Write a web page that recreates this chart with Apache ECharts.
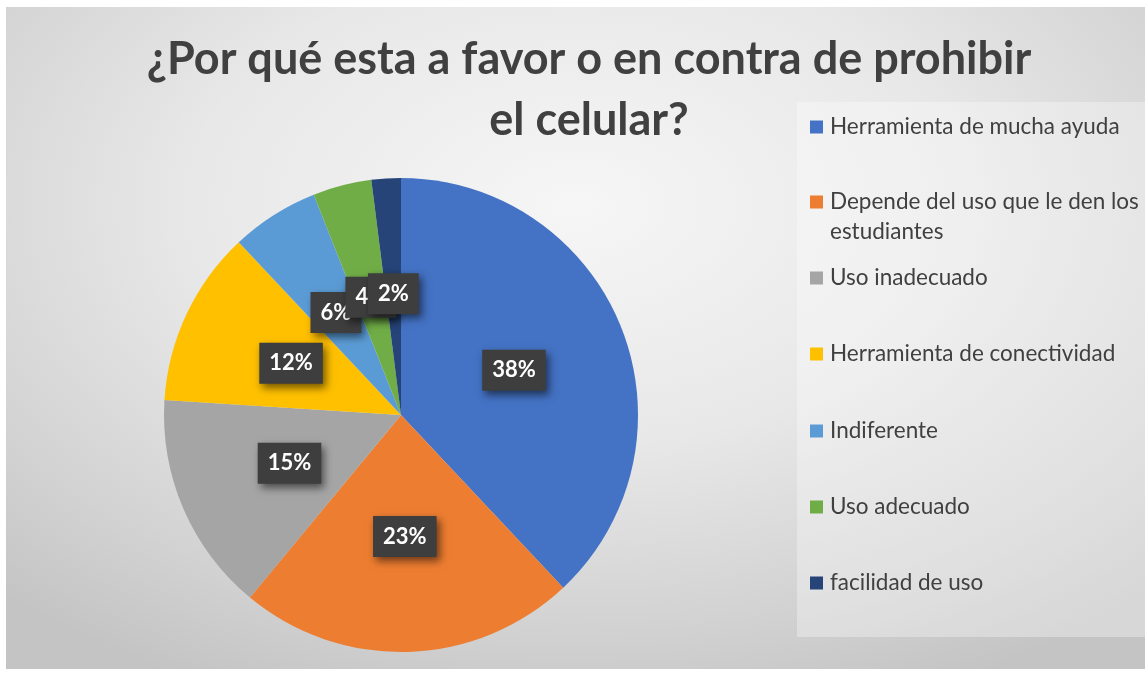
<!DOCTYPE html>
<html>
<head>
<meta charset="utf-8">
<script src="https://cdn.jsdelivr.net/npm/echarts@6/dist/echarts.min.js"></script>
<style>
  html, body { margin: 0; padding: 0; background: #ffffff; width: 1145px; height: 674px; overflow: hidden; }
  #chart {
    position: absolute; left: 6px; top: 7px; width: 1139px; height: 662px;
    background: radial-gradient(ellipse 75% 80% at 50% 30%, #f6f6f6 0%, #e8e8e8 45%, #d2d2d2 80%, #c4c4c4 100%);
  }
</style>
</head>
<body>
<div id="chart"></div>
<script>
const titleText = '¿Por qué esta a favor o en contra de prohibir\nel celular?';
const categories = [
  'Herramienta de mucha ayuda',
  'Depende del uso que le den los estudiantes',
  'Uso inadecuado',
  'Herramienta de conectividad',
  'Indiferente',
  'Uso adecuado',
  'facilidad de uso'
];
const values = [38, 23, 15, 12, 6, 4, 2];
const colors = ['#4472C4', '#ED7D31', '#A5A5A5', '#FFC000', '#5B9BD5', '#70AD47', '#264478'];

const FONT = 'Lato, "Open Sans", sans-serif';
const legendCenters = [120, 195, 271, 347, 424, 500, 576];

const chart = echarts.init(document.getElementById('chart'), null, { renderer: 'canvas' });

const legends = categories.map((name, i) => {
  const wrapped = name.length > 30;
  return {
    orient: 'vertical',
    left: 804,
    top: legendCenters[i] - 15,
    padding: 0,
    itemWidth: 13,
    itemHeight: wrapped ? 43 : 13,
    icon: wrapped ? 'path://M0,0L13,0L13,13L0,13Z M0,43L13,43' : 'rect',
    data: [name],
    selectedMode: false,
    textStyle: {
      fontFamily: FONT,
      fontSize: 22.5,
      color: '#404040',
      lineHeight: 30,
      width: wrapped ? 322 : undefined,
      overflow: wrapped ? 'break' : 'none',
      padding: [0, 0, 0, 2]
    }
  };
});

chart.setOption({
  animation: false,
  color: colors,
  title: {
    text: titleText,
    left: 578,
    top: 17,
    textAlign: 'center',
    textStyle: {
      fontFamily: FONT,
      fontWeight: 'bold',
      fontSize: 45,
      lineHeight: 61,
      color: '#404040'
    }
  },
  graphic: [{
    type: 'rect',
    left: 791, top: 95,
    shape: { width: 348, height: 535 },
    style: { fill: 'rgba(255,255,255,0.32)' },
    z: -1, silent: true
  }],
  legend: legends,
  series: [{
    type: 'pie',
    center: [395, 408],
    radius: 237,
    startAngle: 90,
    clockwise: true,
    avoidLabelOverlap: false,
    labelLayout: { hideOverlap: false },
    labelLine: { show: false },
    itemStyle: { borderWidth: 0 },
    label: {
      show: true,
      position: 'inside',
      formatter: '{c}%',
      fontFamily: FONT,
      fontWeight: 'bold',
      fontSize: 22,
      lineHeight: 22,
      color: '#ffffff',
      backgroundColor: '#3e3e3e',
      padding: [10, 10, 9, 10],
      shadowColor: 'rgba(0,0,0,0.55)',
      shadowBlur: 8,
      shadowOffsetX: 3,
      shadowOffsetY: 4
    },
    emphasis: { disabled: true },
    data: categories.map((name, i) => ({ name: name, value: values[i] }))
  }]
});
</script>
</body>
</html>
